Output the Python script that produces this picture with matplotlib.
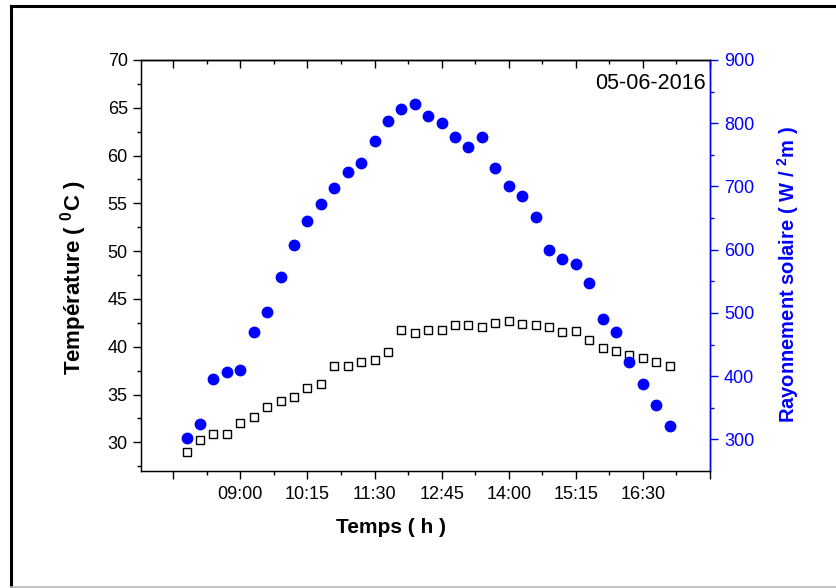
#Temperature and solar radiation for 05-06-2016, two y axes

import numpy as np
import matplotlib
matplotlib.use('Agg')
import matplotlib.pyplot as plt
from matplotlib.ticker import FixedLocator, MultipleLocator, FuncFormatter
from matplotlib.lines import Line2D

plt.rcParams['font.family'] = ['Liberation Sans', 'DejaVu Sans']
plt.rcParams['mathtext.fontset'] = 'custom'
plt.rcParams['mathtext.rm'] = 'Liberation Sans'
plt.rcParams['mathtext.bf'] = 'Liberation Sans:bold'

# measurement times, every 15 min from 08:00 to 17:00 (minutes since midnight)
times = [480 + 15 * i for i in range(37)]

temperature = [29.0, 30.2, 30.9, 30.9, 32.0, 32.7, 33.7, 34.3, 34.7, 35.7,
               36.1, 38.0, 38.0, 38.4, 38.6, 39.5, 41.7, 41.4, 41.8, 41.8,
               42.3, 42.3, 42.1, 42.5, 42.7, 42.4, 42.3, 42.1, 41.5, 41.6,
               40.7, 39.9, 39.6, 39.1, 38.8, 38.4, 38.0]

radiation = [302, 324, 395, 407, 410, 470, 502, 557, 608, 645,
             672, 697, 723, 737, 772, 803, 823, 831, 811, 801,
             778, 762, 779, 729, 700, 685, 651, 600, 586, 577,
             547, 490, 470, 423, 388, 354, 321]

# x ticks: 07:45 to 17:45 every 75 min, only the inner ones labelled
major_ticks = [465 + 75 * i for i in range(9)]
tick_text = ['', '09:00', '10:15', '11:30', '12:45', '14:00', '15:15', '16:30', '']

blue = '#0000ff'

fig = plt.figure(figsize=(8.36, 5.88), dpi=100)
ax = fig.add_axes([141/836, 1 - 471/588, (710 - 141)/836, (471 - 60)/588])

ax.plot(times, temperature, ls='none', marker='s', ms=6.3, mfc='white',
        mec='black', mew=1.0, zorder=3)
ax.set_xlim(429, 1065)
ax.set_ylim(27, 70)

ax.xaxis.set_major_locator(FixedLocator(major_ticks))
ax.xaxis.set_minor_locator(FixedLocator([t + 37.5 for t in major_ticks[:-1]]))
ax.xaxis.set_major_formatter(FuncFormatter(lambda v, p: tick_text[p] if p is not None and p < len(tick_text) else ''))
ax.set_yticks([30, 35, 40, 45, 50, 55, 60, 65, 70])
ax.yaxis.set_minor_locator(MultipleLocator(2.5))
ax.tick_params(axis='both', which='major', direction='out', length=6, width=1,
               labelsize=13, pad=3.5)
ax.tick_params(axis='x', which='major', pad=5)
ax.tick_params(axis='both', which='minor', direction='out', length=3, width=1)
for s in ax.spines.values():
    s.set_linewidth(1.0)

# top ticks point inwards
top = ax.secondary_xaxis('top')
top.xaxis.set_major_locator(FixedLocator(major_ticks))
top.xaxis.set_minor_locator(FixedLocator([t + 37.5 for t in major_ticks[:-1]]))
top.tick_params(which='major', direction='in', length=6, width=1, labeltop=False)
top.tick_params(which='minor', direction='in', length=3, width=1)
top.spines['top'].set_linewidth(1.0)

ax.set_xlabel('Temps ( h )', fontsize=15, fontweight='bold')
ax.xaxis.set_label_coords(0.44, -0.115)
ax.set_ylabel(r'Température ( $\mathbf{^0}$C )', fontsize=16, fontweight='bold')
ax.yaxis.set_label_coords(-0.092, 0.47)

ax2 = ax.twinx()
ax2.plot(times, radiation, ls='none', marker='o', ms=7.5, color=blue, zorder=3)
ax2.set_ylim(250, 900)
ax2.yaxis.set_major_locator(FixedLocator([300, 400, 500, 600, 700, 800, 900]))
ax2.yaxis.set_minor_locator(FixedLocator([350, 450, 550, 650, 750, 850]))
ax2.tick_params(axis='y', which='major', direction='out', length=6, width=1,
                colors=blue, labelsize=13, pad=4)
ax2.tick_params(axis='y', which='minor', direction='out', length=3, width=1, colors=blue)
ax2.spines['right'].set_color(blue)
ax2.spines['right'].set_linewidth(1.0)
ax2.set_ylabel(r'Rayonnement solaire ( W / $\mathbf{^2}$m )', fontsize=14.5,
               fontweight='bold', color=blue)
ax2.yaxis.set_label_coords(1.114, 0.479)

ax.text(0.993, 0.942, '05-06-2016', transform=ax.transAxes, ha='right',
        va='center', fontsize=15.5)

# outer frame of the picture
fig.add_artist(Line2D([11/836, 11/836], [1 - 587/588, 1 - 6/588], color='black', lw=2.2))
fig.add_artist(Line2D([11/836, 1.0], [1 - 6/588, 1 - 6/588], color='black', lw=2.2))
fig.add_artist(Line2D([11/836, 1.0], [1 - 587/588, 1 - 587/588], color='#bbbbbb', lw=1.2))

fig.savefig('out.png', dpi=100)
